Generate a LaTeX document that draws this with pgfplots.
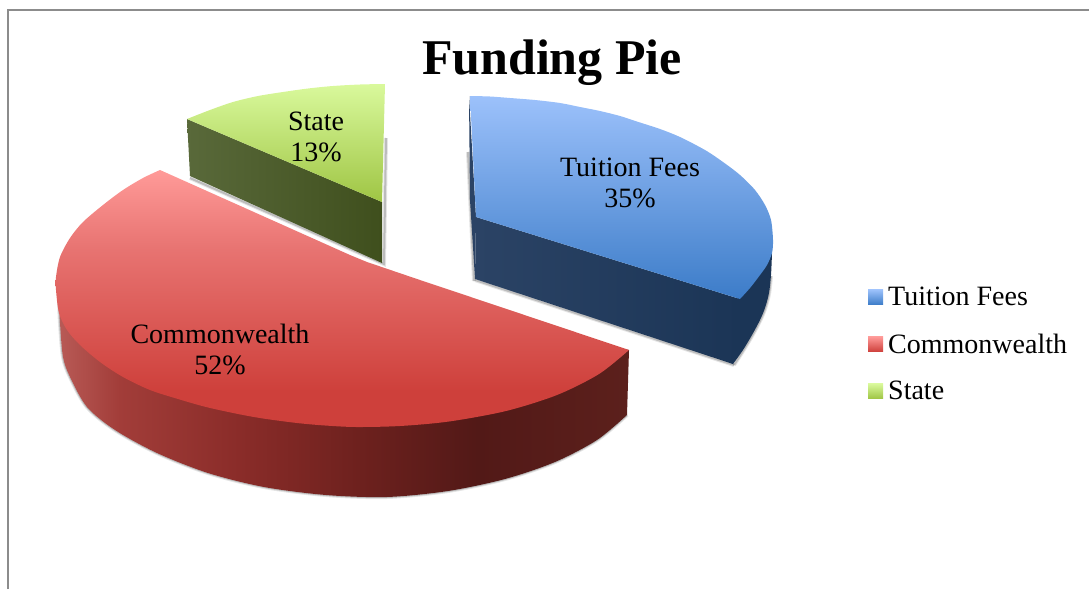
\documentclass[border=0pt]{standalone}
\usepackage{fontspec}
\setmainfont{Liberation Serif}
\usepackage{pgfplots}
\pgfplotsset{compat=1.18}
\definecolor{rw0}{HTML}{B85A56}
\definecolor{rw1}{HTML}{A23D39}
\definecolor{rw2}{HTML}{8A2C29}
\definecolor{rw3}{HTML}{6E211E}
\definecolor{rw4}{HTML}{521917}
\definecolor{rw5}{HTML}{5C201C}
\definecolor{rt0}{HTML}{FF9A98}
\definecolor{rt1}{HTML}{E87472}
\definecolor{rt2}{HTML}{CE403B}
\definecolor{bt0}{HTML}{9CC1FB}
\definecolor{bt1}{HTML}{3C7CC8}
\definecolor{bw0}{HTML}{2B4365}
\definecolor{bw1}{HTML}{1B3556}
\definecolor{gt0}{HTML}{D9F99C}
\definecolor{gt1}{HTML}{9FC544}
\definecolor{gw0}{HTML}{59693A}
\definecolor{gw1}{HTML}{3F4F1D}
\pgfdeclarehorizontalshading{redwall}{100bp}{color(0bp)=(rw0); color(25bp)=(rw0); color(30.3bp)=(rw1); color(40.8bp)=(rw2); color(51.2bp)=(rw3); color(61.7bp)=(rw4); color(75bp)=(rw5); color(100bp)=(rw5)}
\pgfdeclareverticalshading{redtop}{100bp}{color(0bp)=(rt2); color(25bp)=(rt2); color(32bp)=(rt2); color(60bp)=(rt1); color(75bp)=(rt0); color(100bp)=(rt0)}
\begin{document}
\begin{tikzpicture}
\begin{axis}[
  scale only axis, width=1089pt, height=589pt,
  xmin=0, xmax=1089, ymin=0, ymax=589, y dir=reverse,
  hide axis,
  legend style={at={(axis cs:868,285)}, anchor=north west, draw=none, fill=none,
    font=\fontsize{28}{32}\selectfont, row sep=22.5pt, inner sep=0pt},
  legend cell align=left,
]
% page extent
\addplot[forget plot, draw=none] coordinates {(0,0) (1089,589)};
% frame
\addplot[forget plot, color=black!45, line width=2pt] coordinates {(8,589) (8,10) (1089,10)};
% shadows
\addplot[forget plot, color=black, opacity=.10, line width=4pt] coordinates {(386,138) (384,264) (190,178)};
\addplot[forget plot, color=black, opacity=.18, line width=2pt] coordinates {(386,138) (384,264) (190,178)};
\addplot[forget plot, color=black, opacity=.10, line width=4pt] coordinates {(468,152) (474,281)};
\addplot[forget plot, color=black, opacity=.18, line width=2pt] coordinates {(468,152) (474,281)};
\addplot[forget plot, color=black, opacity=.10, line width=4pt] coordinates {(475,280) (734,365)};
\addplot[forget plot, color=black, opacity=.18, line width=2pt] coordinates {(475,280) (734,365)};
\addplot[forget plot, color=black, opacity=.10, line width=4pt, smooth] coordinates {(734,365) (743,351) (752,336) (760,321) (765,309) (769,294) (771,276)};
\addplot[forget plot, color=black, opacity=.18, line width=2pt, smooth] coordinates {(734,365) (743,351) (752,336) (760,321) (765,309) (769,294) (771,276)};
\addplot[forget plot, color=black, opacity=.10, line width=4pt, smooth] coordinates {(59,300) (60,323) (63,357) (70,377) (87,407) (115,430) (157,453) (208,473) (264,487) (326,495) (387,497) (448,491) (505,479) (555,462) (597,440) (627,415)};
\addplot[forget plot, color=black, opacity=.18, line width=2pt, smooth] coordinates {(59,300) (60,323) (63,357) (70,377) (87,407) (115,430) (157,453) (208,473) (264,487) (326,495) (387,497) (448,491) (505,479) (555,462) (597,440) (627,415)};
% green slice
\addplot[forget plot, draw=none, left color=gw0, right color=gw1] coordinates {(187,119) (382,202) (382,263) (190,176)};
\addplot[forget plot, draw=none, top color=gt0, bottom color=gt1, smooth] coordinates {(187,119) (210,110) (233,102) (258,96) (283,92) (308,88.5) (333,86) (360,84.5) (385,84)} -- (axis cs:382,202) -- cycle;
% blue slice
\addplot[forget plot, draw=none, fill=bw0] coordinates {(469,96) (476,217) (475,279) (470,200)};
\addplot[forget plot, draw=none, left color=bw0, right color=bw1] coordinates {(476,217) (740,299) (733,364) (475,279)};
\addplot[forget plot, draw=none, fill=bw1, smooth] coordinates {(772,253) (771,275) (769,293) (765,308) (760,320) (752,335) (743,350) (733,364)} -- (axis cs:731,363) -- (axis cs:738,298) -- cycle;
\addplot[forget plot, draw=none, top color=bt0, bottom color=bt1, smooth] coordinates {(470,96) (490,96.5) (510,98) (535,100) (560,103) (580,107) (600,111) (620,116) (640,122.5) (660,129) (680,137) (705,150) (723,162) (740,175) (755,190) (765,205) (771,220) (773,240) (772,253) (767,265) (760,275) (750,288) (740,299)} -- (axis cs:476,217) -- cycle;
% red slice
\addplot[forget plot, draw=none, shading=redwall, smooth] coordinates {(59,300) (60,323) (63,357) (70,377) (87,407) (115,430) (157,453) (208,473) (264,487) (326,495) (387,497) (448,491) (505,479) (555,462) (597,440) (627,415)} -- (axis cs:629,350) -- (axis cs:356,300) -- cycle;
\addplot[forget plot, draw=none, shading=redtop, smooth] coordinates {(160,170) (143,178) (123,190) (103,205) (83,222) (70,238) (60,257) (56,277) (56,290) (59,313) (67,330) (80,345) (100,362) (123,377) (150,390) (178,399) (206,407) (238,414) (263,418.5) (297,423) (325,425.5) (356,427) (400,426) (449,421.5) (506,411) (557,395) (599,374) (629,350)} -- (axis cs:420,280) -- (axis cs:367,262) -- (axis cs:350,255) -- cycle;
% legend
\addlegendimage{legend image code/.code={\path[draw=none, top color=bt0, bottom color=bt1] (0cm,-7.5pt) rectangle (15pt,7.5pt); \path[draw=none] (18pt,0pt);}}
\addlegendentry{Tuition Fees}
\addlegendimage{legend image code/.code={\path[draw=none, top color=rt0, bottom color=rt2] (0cm,-7.5pt) rectangle (15pt,7.5pt); \path[draw=none] (18pt,0pt);}}
\addlegendentry{Commonwealth}
\addlegendimage{legend image code/.code={\path[draw=none, top color=gt0, bottom color=gt1] (0cm,-7.5pt) rectangle (15pt,7.5pt); \path[draw=none] (18pt,0pt);}}
\addlegendentry{State}
% labels
\node[align=center, font=\fontsize{28}{31}\selectfont] at (axis cs:316,137) {State\\13\%};
\node[align=center, font=\fontsize{28}{31}\selectfont] at (axis cs:630,183) {Tuition Fees\\35\%};
\node[align=center, font=\fontsize{28}{31}\selectfont] at (axis cs:220,349) {Commonwealth\\52\%};
\node[font=\fontsize{50}{60}\selectfont\bfseries] at (axis cs:552,63) {Funding Pie};
\end{axis}
\end{tikzpicture}
\end{document}
